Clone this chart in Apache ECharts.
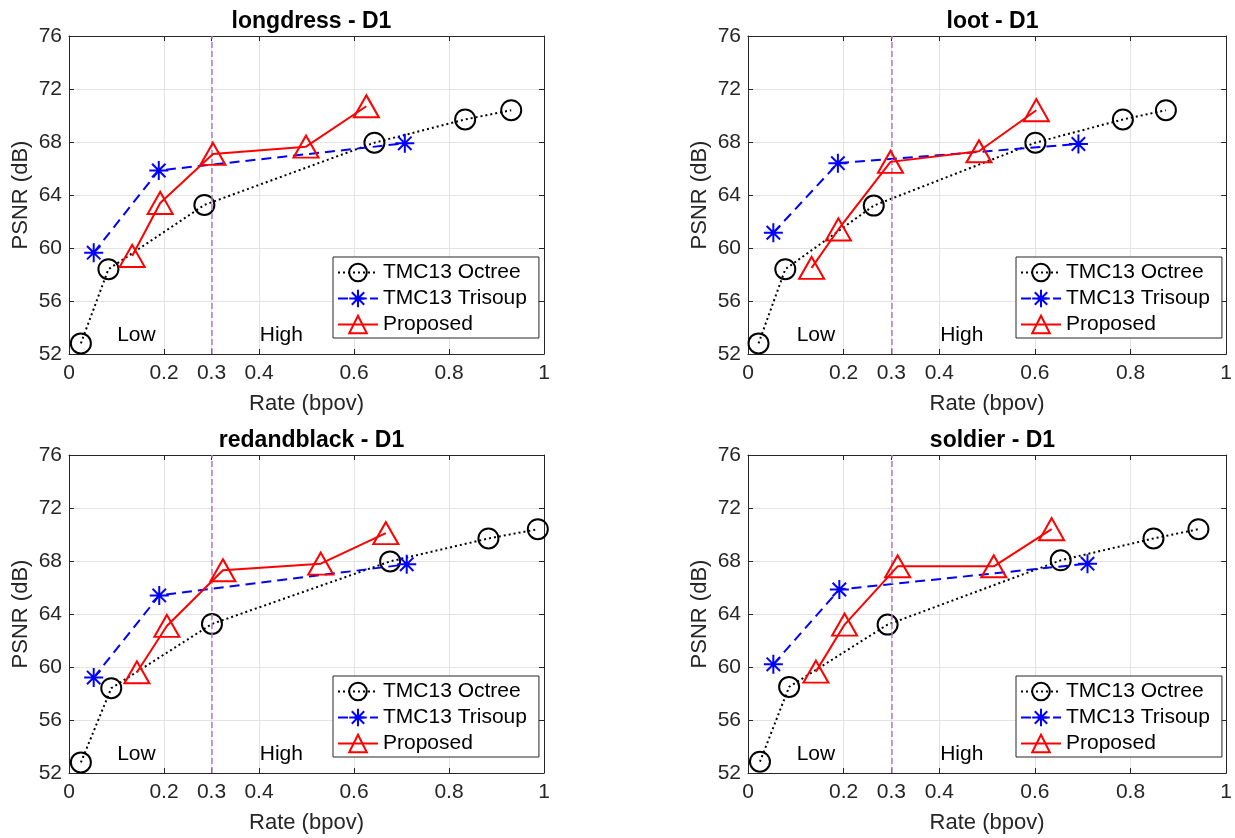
<!DOCTYPE html>
<html>
<head>
<meta charset="utf-8">
<script src="https://cdn.jsdelivr.net/npm/echarts@6/dist/echarts.min.js"></script>
<style>html,body{margin:0;padding:0;background:#fff}#c{width:1235px;height:838px}</style>
</head>
<body>
<div id="c"></div>
<script>
// ---- data (Rate in bpov, PSNR in dB) ----
const titles = ['longdress - D1', 'loot - D1', 'redandblack - D1', 'soldier - D1'];
const seriesNames = ['TMC13 Octree', 'TMC13 Trisoup', 'Proposed'];

const longdressOctree   = [[0.025,52.8],[0.083,58.4],[0.285,63.25],[0.643,67.95],[0.834,69.7],[0.931,70.4]];
const longdressTrisoup  = [[0.052,59.65],[0.189,65.85],[0.707,67.9]];
const longdressProposed = [[0.133,59.4],[0.192,63.4],[0.303,67.1],[0.499,67.65],[0.626,70.7]];

const lootOctree   = [[0.022,52.8],[0.078,58.4],[0.263,63.2],[0.601,67.95],[0.784,69.7],[0.874,70.4]];
const lootTrisoup  = [[0.053,61.15],[0.188,66.4],[0.691,67.85]];
const lootProposed = [[0.133,58.5],[0.189,61.4],[0.298,66.5],[0.483,67.3],[0.603,70.4]];

const redandblackOctree   = [[0.025,52.8],[0.089,58.4],[0.301,63.25],[0.676,67.97],[0.883,69.7],[0.987,70.4]];
const redandblackTrisoup  = [[0.052,59.2],[0.19,65.4],[0.711,67.75]];
const redandblackProposed = [[0.143,59.6],[0.206,63.1],[0.324,67.3],[0.53,67.8],[0.667,70.1]];

const soldierOctree   = [[0.025,52.85],[0.086,58.5],[0.292,63.2],[0.654,68.05],[0.848,69.7],[0.942,70.4]];
const soldierTrisoup  = [[0.053,60.2],[0.191,65.85],[0.71,67.8]];
const soldierProposed = [[0.142,59.65],[0.202,63.2],[0.313,67.6],[0.514,67.6],[0.635,70.4]];

const xTicks = [0, 0.2, 0.3, 0.4, 0.6, 0.8, 1];
const yMin = 52, yMax = 76, yStep = 4;
const thresholdRate = 0.3;
const regionLabels = ['Low', 'High'];
const regionLabelRates = [0.142, 0.447];
const regionLabelPSNR = 53.4;

const plotData = [
  [longdressOctree, longdressTrisoup, longdressProposed],
  [lootOctree, lootTrisoup, lootProposed],
  [redandblackOctree, redandblackTrisoup, redandblackProposed],
  [soldierOctree, soldierTrisoup, soldierProposed]
];

// ---- layout ----
const FONT = '"Liberation Sans", Arial, Helvetica, sans-serif';
const grids = [
  {left: 69,  top: 36,  width: 475, height: 318},
  {left: 748, top: 36,  width: 479, height: 318},
  {left: 69,  top: 455, width: 475, height: 318},
  {left: 748, top: 455, width: 479, height: 318}
];
const AX = '#262626';
const asterisk = 'path://M0,-10L0,10M-10,0L10,0M-7.07,-7.07L7.07,7.07M-7.07,7.07L7.07,-7.07';

const styles = [
  {symbol: 'circle', symbolSize: 20,
   itemStyle: {color: 'rgba(0,0,0,0)', borderColor: '#000', borderWidth: 2},
   lineStyle: {color: '#000', width: 2, type: [2, 3]}},
  {symbol: asterisk, symbolSize: 19,
   itemStyle: {color: '#0000ff', borderColor: '#0000ff', borderWidth: 2},
   lineStyle: {color: '#0000ff', width: 2, type: [10, 6]}},
  {symbol: 'triangle', symbolSize: [25, 22],
   itemStyle: {color: 'rgba(0,0,0,0)', borderColor: '#ff0000', borderWidth: 2},
   lineStyle: {color: '#ff0000', width: 2, type: 'solid'}}
];

const option = {
  backgroundColor: '#fff',
  animation: false,
  title: [], grid: [], xAxis: [], yAxis: [], legend: [], series: []
};

grids.forEach((g, i) => {
  option.grid.push({left: g.left, top: g.top, width: g.width, height: g.height,
                    show: true, borderWidth: 0, backgroundColor: '#fff'});
  option.title.push({
    text: titles[i], left: g.left + g.width / 2, top: g.top - 31, textAlign: 'center',
    textStyle: {fontFamily: FONT, fontSize: 23, fontWeight: 'bold', color: '#000'}
  });
  const xBase = {
    gridIndex: i, type: 'value', min: 0, max: 1,
    axisLine: {show: true, onZero: false, lineStyle: {color: AX, width: 1}},
    axisTick: {show: true, inside: true, length: 5, customValues: xTicks, lineStyle: {color: AX}},
    splitLine: {show: false}
  };
  option.xAxis.push(Object.assign({}, xBase, {
    position: 'bottom',
    name: 'Rate (bpov)', nameLocation: 'middle', nameGap: 39,
    nameTextStyle: {fontFamily: FONT, fontSize: 22, color: AX},
    axisLabel: {show: true, customValues: xTicks, margin: 9, fontFamily: FONT, fontSize: 21, color: AX,
                formatter: v => String(+v.toFixed(2))},
    splitLine: {show: true, lineStyle: {color: '#e3e3e3', width: 1}}
  }));
  option.xAxis.push(Object.assign({}, xBase, {position: 'top', axisLabel: {show: false}}));
  const yBase = {
    gridIndex: i, type: 'value', min: yMin, max: yMax, interval: yStep,
    axisLine: {show: true, onZero: false, lineStyle: {color: AX, width: 1}},
    axisTick: {show: true, inside: true, length: 5, lineStyle: {color: AX}},
    splitLine: {show: false}
  };
  option.yAxis.push(Object.assign({}, yBase, {
    position: 'left',
    name: 'PSNR (dB)', nameLocation: 'middle', nameGap: 37,
    nameTextStyle: {fontFamily: FONT, fontSize: 22, color: AX},
    axisLabel: {show: true, margin: 7, fontFamily: FONT, fontSize: 21, color: AX},
    splitLine: {show: true, lineStyle: {color: '#e3e3e3', width: 1}}
  }));
  option.yAxis.push(Object.assign({}, yBase, {position: 'right', axisLabel: {show: false}}));

  option.legend.push({
    orient: 'vertical', left: g.left + g.width - 211, top: g.top + 221,
    data: seriesNames,
    itemWidth: 40, itemHeight: 22, itemGap: 5,
    padding: [5, 12, 3, 4],
    backgroundColor: '#fff', borderColor: AX, borderWidth: 1, borderRadius: 0,
    textStyle: {fontFamily: FONT, fontSize: 21, color: '#000'},
    selectedMode: false
  });

  plotData[i].forEach((pts, s) => {
    const st = styles[s];
    const ser = {
      name: seriesNames[s], type: 'line', xAxisIndex: 2 * i, yAxisIndex: 2 * i,
      data: pts, symbol: st.symbol, symbolSize: st.symbolSize,
      itemStyle: st.itemStyle, lineStyle: st.lineStyle,
      showAllSymbol: true, z: 3 + s, silent: true
    };
    if (s === 0) {
      ser.markLine = {
        silent: true, symbol: ['none', 'none'], label: {show: false},
        lineStyle: {color: '#b07cc6', width: 1.5, type: [6, 3]},
        data: [{xAxis: thresholdRate}]
      };
      ser.markPoint = {
        silent: true, symbol: 'rect', symbolSize: 0,
        label: {show: true, position: 'inside', fontFamily: FONT, fontSize: 21, color: '#000',
                formatter: p => p.name},
        data: regionLabels.map((t, k) => ({name: t, coord: [regionLabelRates[k], regionLabelPSNR]}))
      };
    }
    option.series.push(ser);
  });
});

const chart = echarts.init(document.getElementById('c'), null, {renderer: 'canvas'});
chart.setOption(option);
</script>
</body>
</html>
